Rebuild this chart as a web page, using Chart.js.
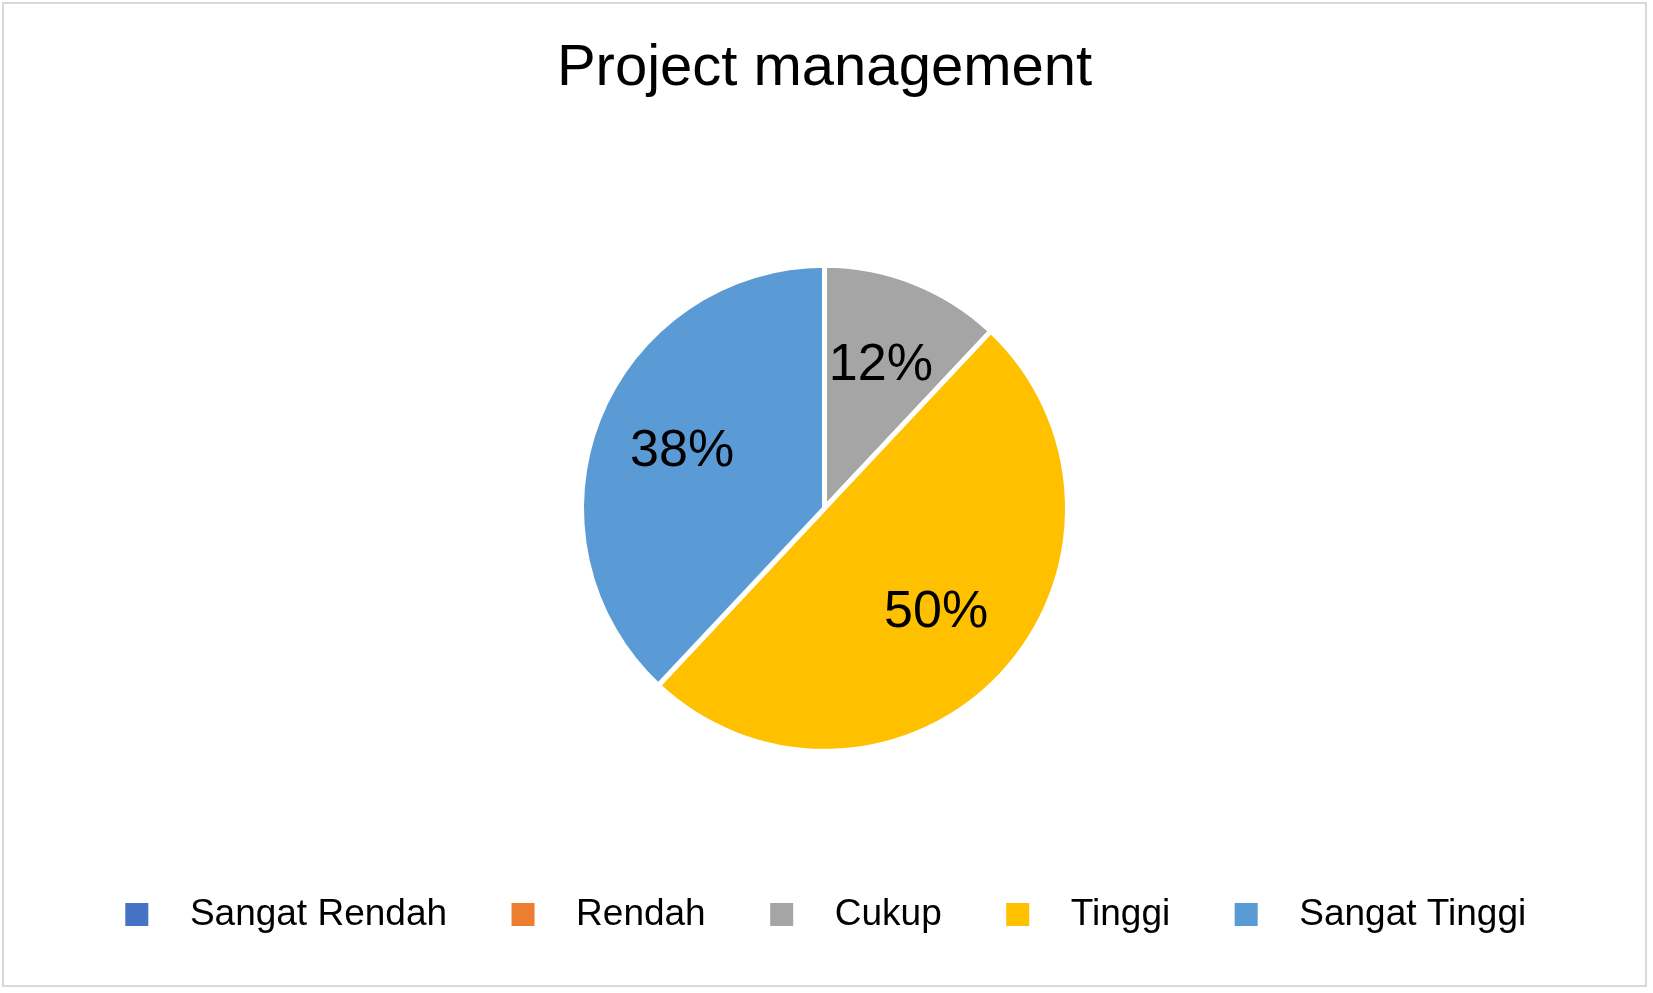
<!DOCTYPE html>
<html><head><meta charset="utf-8">
<script src="https://cdn.jsdelivr.net/npm/chart.js@4"></script>
<style>html,body{margin:0;padding:0;background:#fff}
#wrap{position:absolute;left:2px;top:2px;width:1645px;height:985px;border:2px solid #d9d9d9;box-sizing:border-box}
</style></head><body>
<div id="wrap"><canvas id="c"></canvas></div>
<script>
const categories = ["Sangat Rendah","Rendah","Cukup","Tinggi","Sangat Tinggi"];
const values = [0, 0, 12, 50, 38];
const colors = ["#4472C4","#ED7D31","#A5A5A5","#FFC000","#5B9BD5"];
const FONT='"Liberation Sans", Arial, sans-serif';
const labelPlugin = {
  id:'lbl',
  afterDatasetsDraw(chart){
    const ctx=chart.ctx, meta=chart.getDatasetMeta(0);
    const total=values.reduce((a,b)=>a+b,0);
    ctx.save();
    ctx.font='52px '+FONT;
    ctx.fillStyle='#000';ctx.textAlign='center';ctx.textBaseline='middle';
    meta.data.forEach((arc,i)=>{
      if(!values[i])return;
      const a=(arc.startAngle+arc.endAngle)/2, r=arc.outerRadius*0.63;
      ctx.fillText(Math.round(values[i]/total*100)+'%', arc.x+Math.cos(a)*r, arc.y+Math.sin(a)*r);
    });
    ctx.restore();
  }
};
new Chart(document.getElementById('c'),{
  type:'pie',
  data:{labels:categories,datasets:[{data:values,backgroundColor:colors,borderColor:'#fff',borderWidth:5,radius:243}]},
  options:{
    responsive:true,maintainAspectRatio:false,animation:false,
    layout:{padding:{top:0,bottom:42}},
    plugins:{
      title:{display:true,text:'Project management',color:'#000',font:{family:FONT,size:58,weight:'normal'},padding:{top:30,bottom:79}},
      legend:{position:'bottom',labels:{color:'#000',font:{family:FONT,size:37},boxWidth:28,boxHeight:28,padding:62,
        generateLabels(chart){
          const d=Chart.overrides.pie.plugins.legend.labels.generateLabels(chart);
          d.forEach(x=>{x.text='  '+x.text;x.hidden=false;});
          return d;
        }}},
      tooltip:{enabled:false}
    }
  },
  plugins:[labelPlugin]
});
</script></body></html>
